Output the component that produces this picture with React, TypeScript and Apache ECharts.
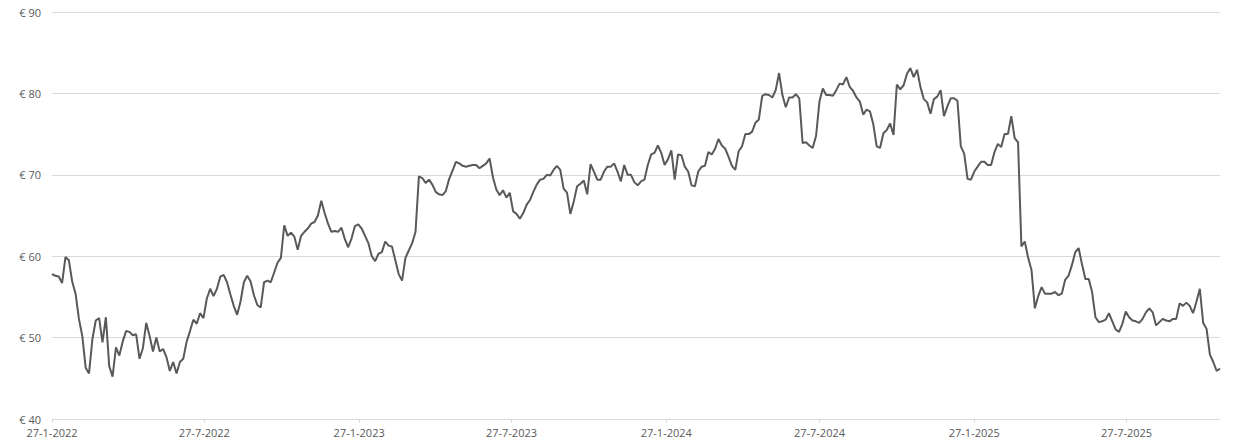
import { useEffect, useRef } from "react"
import * as echarts from "echarts"

// closing prices sampled every 4 days, starting 27-1-2022
const START = "2022-01-27"
const STEP_DAYS = 4

const closes2022 = [
  57.8, 57.6, 57.5, 56.7, 59.9, 59.5, 56.9, 55.4, 52.3, 50.2,
  46.3, 45.6, 49.8, 52.1, 52.4, 49.4, 52.5, 46.5, 45.2, 48.8,
  47.8, 49.5, 50.8, 50.7, 50.3, 50.4, 47.4, 48.7, 51.8, 50.2,
  48.3, 50.0, 48.3, 48.6, 47.6, 45.9, 47.0, 45.6, 47.0, 47.4,
  49.5, 50.8, 52.2, 51.7, 53.0, 52.4, 54.8, 56.0, 55.1, 56.0,
  57.5, 57.7, 56.8, 55.3, 53.9, 52.8, 54.4, 56.8, 57.6, 56.9,
  55.2, 54.0, 53.7, 56.8, 57.0, 56.8, 58.0, 59.2, 59.8, 63.8,
  62.5, 62.9, 62.4, 60.8, 62.5, 63.0, 63.4, 64.0, 64.2, 65.0,
  66.8, 65.3, 64.0, 63.0, 63.1, 63.0, 63.5, 62.1, 61.1, 62.2,
  63.7,
]

const closes2023 = [
  63.9, 63.4, 62.5, 61.6, 60.0, 59.4, 60.3, 60.5, 61.8, 61.3,
  61.2, 59.5, 57.8, 57.0, 59.8, 60.7, 61.6, 63.0, 69.8, 69.6,
  69.0, 69.4, 68.8, 67.9, 67.6, 67.5, 68.0, 69.5, 70.5, 71.6,
  71.4, 71.1, 71.0, 71.1, 71.2, 71.2, 70.8, 71.1, 71.4, 72.0,
  69.7, 68.2, 67.5, 68.1, 67.2, 67.8, 65.5, 65.2, 64.6, 65.3,
  66.3, 66.9, 67.9, 68.8, 69.4, 69.5, 70.0, 69.9, 70.6, 71.1,
  70.6, 68.3, 67.8, 65.2, 66.7, 68.6, 68.9, 69.3, 67.6, 71.3,
  70.4, 69.4, 69.4, 70.4, 71.0, 71.0, 71.4, 70.4, 69.2, 71.2,
  70.0, 70.0, 69.1, 68.7, 69.2, 69.4, 71.2, 72.5, 72.7, 73.6,
  72.7,
]

const closes2024 = [
  71.2, 71.9, 73.0, 69.4, 72.5, 72.4, 71.0, 70.4, 68.7, 68.6,
  70.4, 71.0, 71.1, 72.8, 72.5, 73.2, 74.4, 73.6, 73.2, 72.2,
  71.1, 70.6, 72.9, 73.5, 75.0, 75.0, 75.3, 76.4, 76.8, 79.7,
  79.9, 79.8, 79.5, 80.4, 82.5, 79.8, 78.3, 79.5, 79.5, 79.9,
  79.4, 73.9, 74.0, 73.6, 73.3, 74.8, 79.0, 80.6, 79.8, 79.8,
  79.7, 80.4, 81.2, 81.1, 82.0, 80.8, 80.3, 79.5, 79.0, 77.4,
  78.0, 77.8, 76.2, 73.5, 73.3, 75.1, 75.5, 76.3, 74.9, 81.1,
  80.5, 81.0, 82.4, 83.1, 82.0, 82.9, 80.8, 79.3, 78.9, 77.5,
  79.3, 79.6, 80.4, 77.2, 78.4, 79.4, 79.4, 79.1, 73.5, 72.6,
  69.5,
]

const closes2025 = [
  69.4, 70.4, 71.0, 71.6, 71.6, 71.2, 71.2, 72.8, 73.8, 73.4,
  75.0, 75.0, 77.2, 74.5, 74.0, 61.2, 61.8, 59.8, 58.3, 53.6,
  55.1, 56.2, 55.4, 55.4, 55.4, 55.6, 55.2, 55.4, 57.1, 57.6,
  58.9, 60.5, 61.0, 59.0, 57.2, 57.2, 55.6, 52.5, 51.9, 52.0,
  52.2, 53.0, 52.0, 51.0, 50.7, 51.7, 53.2, 52.5, 52.1, 52.0,
  51.8, 52.3, 53.1, 53.6, 53.1, 51.5, 51.9, 52.3, 52.1, 52.0,
  52.3, 52.3, 54.2, 53.9, 54.3, 53.9, 53.0, 54.4, 56.0, 51.8,
  51.1, 47.9, 47.0, 45.9, 46.2,
]

const labelDates = [
  "2022-01-27", "2022-07-27", "2023-01-27", "2023-07-27",
  "2024-01-27", "2024-07-27", "2025-01-27", "2025-07-27",
]

const Y_MIN = 40
const Y_MAX = 90
const Y_STEP = 10

const DAY = 24 * 3600 * 1000

export default function App() {
  const chartRef = useRef<HTMLDivElement>(null)

  useEffect(() => {
    if (!chartRef.current) return
    document.body.style.margin = "0"

    const chart = echarts.init(chartRef.current, null, { renderer: "svg" })

    const start = Date.parse(START)
    const closes = [...closes2022, ...closes2023, ...closes2024, ...closes2025]
    const data = closes.map((v, i) => [start + i * STEP_DAYS * DAY, v])
    const ticks = labelDates.map(d => Date.parse(d))

    const textStyle = {
      color: "#595959",
      fontSize: 11,
      fontFamily: "'Open Sans', sans-serif",
    }

    chart.setOption({
      animation: false,
      grid: { left: 52, right: 14, top: 12, bottom: 28 },
      xAxis: {
        // timestamps on a value axis, so the labels can sit on the 27th
        type: "value",
        min: start,
        max: data[data.length - 1][0],
        axisLine: { lineStyle: { color: "#d9d9d9", width: 1 } },
        axisTick: {
          show: true,
          customValues: ticks,
          length: 4,
          lineStyle: { color: "#d9d9d9" },
        },
        axisLabel: {
          ...textStyle,
          margin: 8,
          customValues: ticks,
          formatter: (value: number) => {
            const d = new Date(value)
            return `${d.getUTCDate()}-${d.getUTCMonth() + 1}-${d.getUTCFullYear()}`
          },
        },
        splitLine: { show: false },
      },
      yAxis: {
        type: "value",
        min: Y_MIN,
        max: Y_MAX,
        interval: Y_STEP,
        axisLine: { show: false },
        axisTick: { show: false },
        axisLabel: {
          ...textStyle,
          margin: 11,
          formatter: (v: number) => `€ ${v}`,
        },
        splitLine: { lineStyle: { color: "#d9d9d9", width: 1 } },
      },
      series: [
        {
          type: "line",
          data,
          showSymbol: false,
          symbol: "none",
          lineStyle: { color: "#595959", width: 2 },
        },
      ],
    })

    return () => {
      chart.dispose()
    }
  }, [])

  return <div ref={chartRef} style={{ width: 1234, height: 447 }} />
}
